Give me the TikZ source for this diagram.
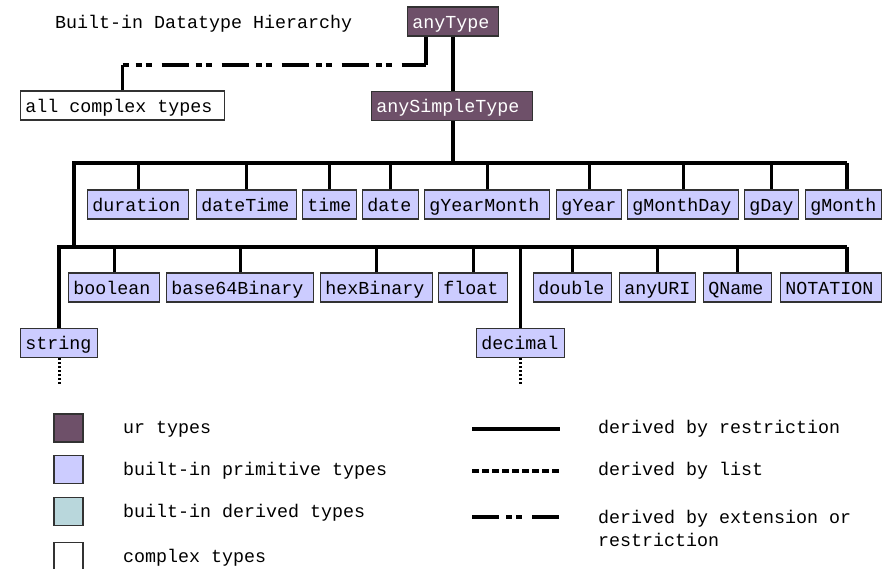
\documentclass[tikz,border=0pt]{standalone}
\usepackage{fontspec}
\setmainfont{Liberation Mono}
\definecolor{urfill}{RGB}{110,80,105}
\definecolor{primfill}{RGB}{204,204,255}
\definecolor{derivfill}{RGB}{185,215,220}
\definecolor{boxline}{RGB}{50,50,50}
\tikzset{
  box/.style={draw=boxline, line width=1.1pt, anchor=west, align=flush left,
    inner xsep=3.5pt, inner ysep=0pt, text height=9.75pt, text depth=0pt,
    minimum height=21.75pt, text width=#1},
  urtype/.style={box=#1, fill=urfill, text=white},
  primtype/.style={box=#1, fill=primfill},
  cplxtype/.style={box=#1, fill=white},
  swatch/.style={draw=boxline, line width=1.1pt, inner sep=0pt,
    minimum width=21.75pt, minimum height=21pt},
  extline/.style={dash pattern=on 20.25pt off 5.25pt on 4.5pt off 3pt on 4.5pt off 7.5pt},
  listline/.style={dash pattern=on 5.25pt off 2.25pt},
  moreline/.style={line width=2pt, dash pattern=on 1.6pt off 1.4pt},
  legend/.style={anchor=base west}
}
\begin{document}
\begin{tikzpicture}[x=0.75pt, y=-0.75pt, line width=2.4pt,
    font=\fontsize{13.75}{17.25}\selectfont]
  \useasboundingbox (0,0) rectangle (892,568);
  \node[legend] (title) at (49,28) {Built-in Datatype Hierarchy};

  \node[urtype=61.25pt] (anyType) at (407,21.5) {anyType};
  \node[urtype=113.75pt] (anySimpleType) at (371,106) {anySimpleType};
  \node[cplxtype=146pt] (allComplex) at (20,105.5) {all complex types};

  \node[primtype=68.75pt] (duration) at (87,204.5) {duration};
  \node[primtype=68pt] (dateTime) at (196,204.5) {dateTime};
  \node[primtype=33.5pt] (time) at (302,204.5) {time};
  \node[primtype=35pt] (date) at (362,204.5) {date};
  \node[primtype=86.75pt] (gYearMonth) at (424,204.5) {gYearMonth};
  \node[primtype=41.75pt] (gYear) at (556,204.5) {gYear};
  \node[primtype=76.25pt] (gMonthDay) at (627,204.5) {gMonthDay};
  \node[primtype=33.5pt] (gDay) at (744,204.5) {gDay};
  \node[primtype=50pt] (gMonth) at (805,204.5) {gMonth};

  \node[primtype=61.25pt] (boolean) at (68,287.5) {boolean};
  \node[primtype=103.25pt] (base64Binary) at (166,287.5) {base64Binary};
  \node[primtype=77pt] (hexBinary) at (320,287.5) {hexBinary};
  \node[primtype=44.75pt] (float) at (438,287.5) {float};
  \node[primtype=51.5pt] (double) at (533,287.5) {double};
  \node[primtype=50pt] (anyURI) at (619,287.5) {anyURI};
  \node[primtype=44pt] (QName) at (703,287.5) {QName};
  \node[primtype=68.75pt] (NOTATION) at (780,287.5) {NOTATION};

  \node[primtype=50.75pt] (string) at (20,343) {string};
  \node[primtype=59pt] (decimal) at (476,343) {decimal};

  \coordinate (extCorner) at (426,65);
  \coordinate (primBus) at (74,163);
  \coordinate (primEnd) at (847,163);
  \coordinate (restBus) at (59,247);
  \coordinate (restEnd) at (847,247);
  \path (string.south) ++(0,26) coordinate (stringMore);
  \path (decimal.south) ++(0,26) coordinate (decimalMore);

  \draw (anyType.south -| extCorner) -- (extCorner);
  \draw[extline, dash phase=15.75pt] (extCorner -| allComplex) -- (extCorner);
  \path (allComplex) edge (extCorner -| allComplex);
  \path (anySimpleType.north -| 453,0) edge (anyType.south -| 453,0);

  \draw (anySimpleType.south -| 453,0) -- (primBus -| 453,0);
  \draw (primEnd) -- (primBus) -- (primBus |- restBus);
  \draw (restEnd) -- (restBus) -- (restBus |- string.north);

  \path (duration) edge (duration |- primBus);
  \path (dateTime) edge (dateTime |- primBus);
  \path (time) edge (time |- primBus);
  \path (date) edge (date |- primBus);
  \path (gYearMonth) edge (gYearMonth |- primBus);
  \path (gYear) edge (gYear |- primBus);
  \path (gMonthDay) edge (gMonthDay |- primBus);
  \path (gDay) edge (gDay |- primBus);
  \path (gMonth.north -| primEnd) edge (primEnd);

  \path (boolean) edge (boolean |- restBus);
  \path (base64Binary) edge (base64Binary |- restBus);
  \path (hexBinary) edge (hexBinary |- restBus);
  \path (float) edge (float |- restBus);
  \path (decimal) edge (decimal |- restBus);
  \path (double) edge (double |- restBus);
  \path (anyURI) edge (anyURI |- restBus);
  \path (QName) edge (QName |- restBus);
  \path (NOTATION.north -| restEnd) edge (restEnd);

  \draw[moreline] (string) -- (stringMore);
  \draw[moreline] (decimal) -- (decimalMore);

  % legend
  \node[swatch, fill=urfill] (keyUr) at (68.5,428) {};
  \node[swatch, fill=primfill] (keyPrim) at (68.5,469.5) {};
  \node[swatch, fill=derivfill] (keyDeriv) at (68.5,511.5) {};
  \node[swatch, fill=white] (keyCplx) at (68.5,556.5) {};
  \node[legend] (keyUrText) at (117,433) {ur types};
  \node[legend] (keyPrimText) at (117,475) {built-in primitive types};
  \node[legend] (keyDerivText) at (117,517) {built-in derived types};
  \node[legend] (keyCplxText) at (117,562) {complex types};

  \coordinate (restrA) at (472,429);
  \coordinate (restrB) at (560,429);
  \coordinate (listA) at (472,471);
  \coordinate (listB) at (560,471);
  \coordinate (extA) at (472,517);
  \coordinate (extB) at (560,517);
  \draw (restrA) -- (restrB);
  \draw[listline] (listA) -- (listB);
  \draw[extline] (extA) -- (extB);
  \node[legend] (restrText) at (592,433) {derived by restriction};
  \node[legend] (listText) at (592,475) {derived by list};
  \node[legend, align=left] (extText) at (592,546) {derived by extension or\\restriction};
\end{tikzpicture}
\end{document}
